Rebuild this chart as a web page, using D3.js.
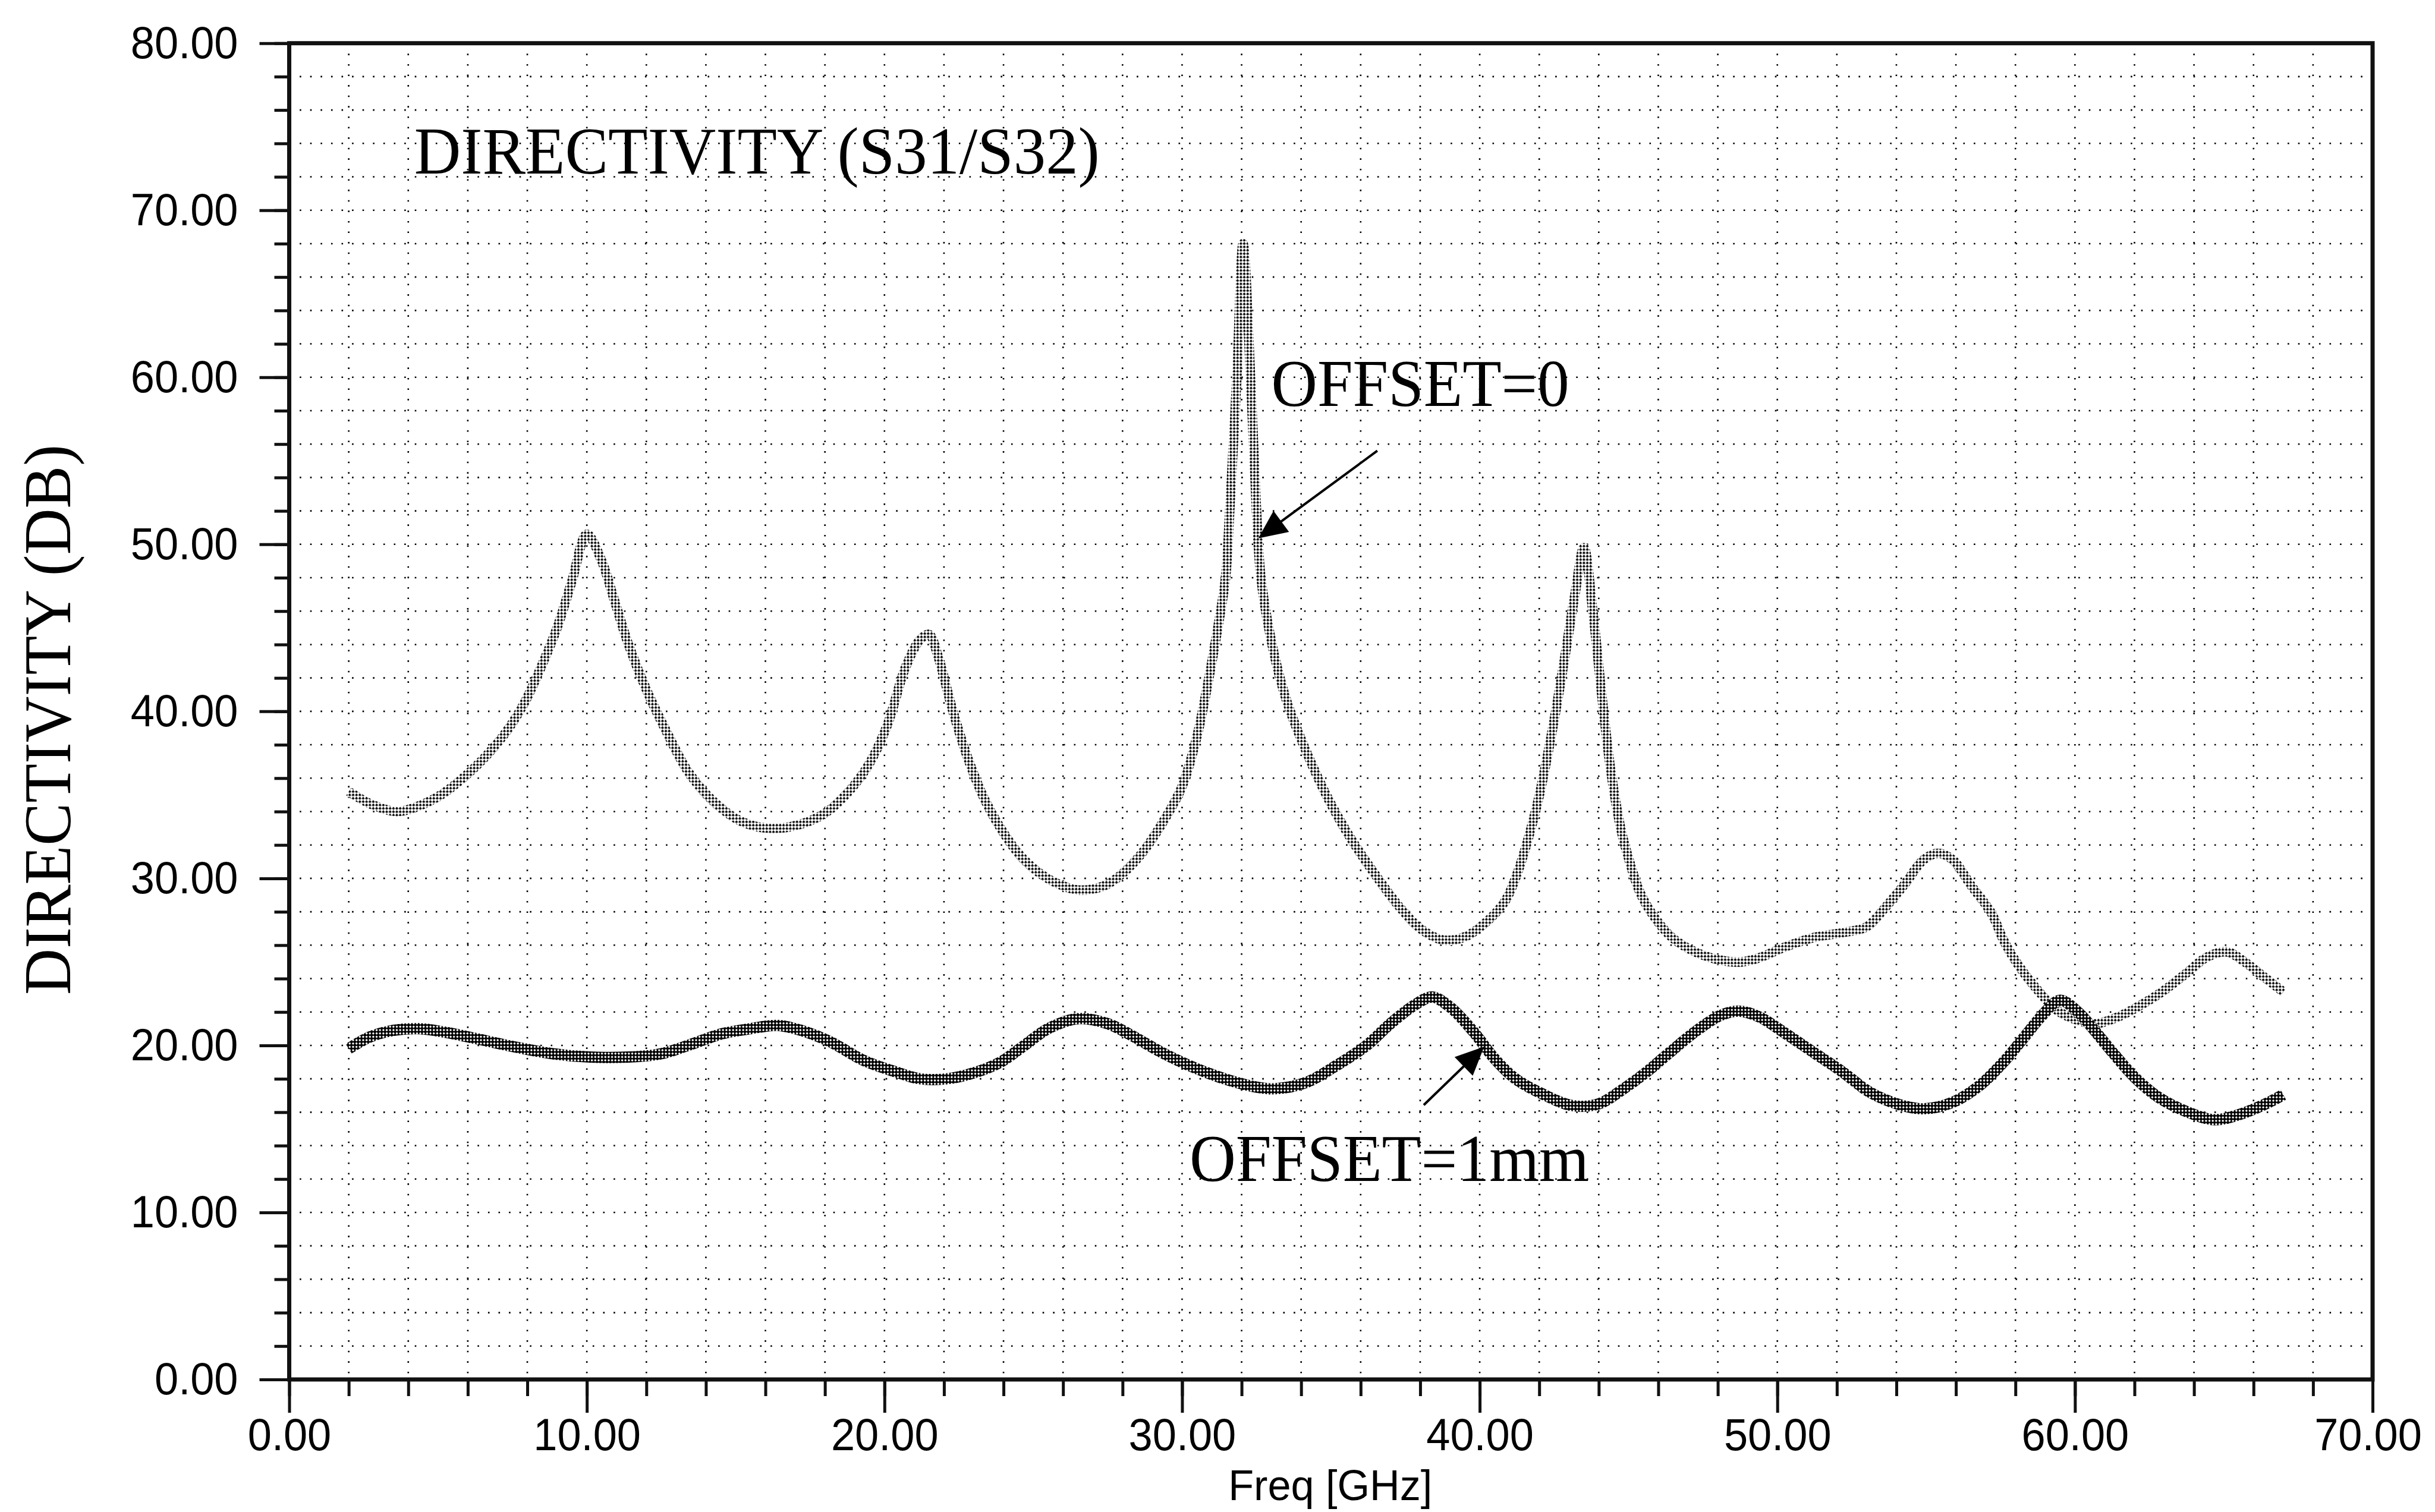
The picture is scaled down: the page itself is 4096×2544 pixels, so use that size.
<!DOCTYPE html>
<html><head><meta charset="utf-8">
<script src="https://cdn.jsdelivr.net/npm/d3@7/dist/d3.min.js"></script>
<style>html,body{margin:0;padding:0;background:#fff;}svg{display:block;}</style>
</head><body>
<svg id="chart" width="4096" height="2544"></svg>
<script>
// ---------------- data ----------------
const xMajorTicks = [0, 10, 20, 30, 40, 50, 60, 70];
const xTickLabels = ["0.00", "10.00", "20.00", "30.00", "40.00", "50.00", "60.00", "70.00"];
const yMajorTicks = [0, 10, 20, 30, 40, 50, 60, 70, 80];
const yTickLabels = ["0.00", "10.00", "20.00", "30.00", "40.00", "50.00", "60.00", "70.00", "80.00"];

// OFFSET=0 (upper curve)
const offset0Freq = [2.0, 2.8, 3.6, 4.3, 5.1, 5.9, 6.6, 7.3, 7.9, 8.5, 9.0, 9.5, 10.0, 10.5, 10.9, 11.4, 12.0, 12.7, 13.4, 14.2,
  15.2, 16.1, 17.1, 18.0, 18.8, 19.5, 20.1, 20.7, 21.2, 21.5, 21.8, 22.3, 22.8, 23.4, 24.2, 24.7, 25.3, 25.8, 26.5, 27.3,
  27.8, 28.6, 29.4, 30.0, 30.5, 30.9, 31.2, 31.46, 31.6, 31.84, 32.05, 32.3, 32.5, 32.65, 33.0, 33.5, 34.1, 34.9, 35.7, 36.5,
  37.3, 38.0, 38.8, 39.5, 40.1, 40.8, 41.2, 41.9, 42.4, 42.8, 43.2, 43.5, 43.8, 44.1, 44.4, 44.75, 45.07, 45.4, 45.9, 46.5,
  47.3, 48.1, 48.8, 49.4, 50.2, 51.2, 52.2, 53.0, 53.6, 54.3, 54.9, 55.4, 55.9, 56.5, 57.2, 57.6, 58.1, 58.8, 59.4, 60.1,
  60.7, 61.5, 62.2, 63.0, 63.8, 64.4, 65.1, 65.7, 66.35, 67.0];
const offset0Db = [35.2, 34.4, 34.0, 34.3, 35.0, 36.1, 37.3, 38.8, 40.5, 42.8, 45.0, 47.8, 50.6, 49.0, 46.8, 44.0, 41.3, 38.7, 36.4, 34.7,
  33.4, 33.0, 33.2, 33.9, 35.2, 36.9, 39.2, 42.6, 44.3, 44.6, 43.3, 40.0, 37.2, 34.6, 32.2, 31.1, 30.2, 29.7, 29.3, 29.5,
  30.0, 31.4, 33.5, 35.5, 38.5, 42.0, 45.0, 48.0, 52.0, 60.0, 68.0, 60.0, 52.0, 48.0, 44.2, 40.7, 37.9, 34.8, 32.3, 30.2,
  28.3, 27.0, 26.3, 26.5, 27.2, 28.5, 30.0, 34.2, 38.5, 42.6, 47.0, 49.8, 46.0, 41.0, 36.5, 32.9, 30.8, 29.1, 27.6, 26.4,
  25.55, 25.1, 25.0, 25.25, 25.85, 26.45, 26.75, 27.1, 28.2, 29.7, 31.1, 31.5, 31.1, 29.6, 27.9, 26.3, 24.8, 23.2, 22.1, 21.5,
  21.3, 21.75, 22.4, 23.3, 24.4, 25.25, 25.6, 25.0, 24.1, 23.2];

// OFFSET=1mm (lower curve)
const offset1Freq = [2.0, 2.7, 3.5, 4.35, 5.2, 6.3, 7.6, 8.85, 10.1, 11.4, 12.5, 13.4, 14.55, 15.5, 16.4, 17.2, 18.2, 19.3, 20.4, 21.2,
  22.1, 22.9, 23.9, 24.7, 25.5, 26.5, 27.5, 28.3, 29.4, 30.5, 31.6, 32.5, 33.1, 34.2, 35.1, 36.2, 37.0, 37.8, 38.4, 39.0,
  39.8, 40.5, 41.2, 42.1, 43.1, 44.0, 44.75, 45.6, 46.4, 47.3, 48.1, 48.7, 49.4, 50.2, 51.2, 52.2, 53.1, 54.1, 54.9, 55.9,
  56.8, 57.6, 58.3, 58.9, 59.5, 60.1, 60.7, 61.35, 62.0, 62.8, 63.8, 64.7, 65.5, 66.35, 67.0];
const offset1Db = [19.8, 20.5, 20.9, 21.0, 20.8, 20.4, 19.9, 19.5, 19.3, 19.3, 19.5, 20.0, 20.7, 21.0, 21.2, 20.9, 20.2, 19.1, 18.4, 18.0,
  18.0, 18.3, 19.0, 20.0, 21.0, 21.6, 21.3, 20.6, 19.5, 18.6, 17.9, 17.5, 17.4, 17.8, 18.7, 20.0, 21.3, 22.4, 22.9, 22.3,
  20.8, 19.2, 18.0, 17.1, 16.4, 16.5, 17.3, 18.4, 19.6, 20.9, 21.8, 22.05, 21.7, 20.8, 19.6, 18.4, 17.2, 16.45, 16.2, 16.6,
  17.6, 19.0, 20.5, 21.8, 22.7, 22.0, 20.8, 19.4, 18.1, 16.9, 16.0, 15.55, 15.85, 16.45, 17.05];

const titleText = "DIRECTIVITY (S31/S32)";
const yAxisTitle = "DIRECTIVITY (DB)";
const xAxisTitle = "Freq [GHz]";
const seriesLabels = ["OFFSET=0", "OFFSET=1mm"];
// annotation anchors in data units [GHz, dB]
const labelAnchors = [[33.0, 58.3], [30.25, 11.9]];
const arrowTails = [[36.56, 55.6], [38.12, 16.43]];
const arrowTips = [[32.56, 50.36], [40.15, 19.93]];
const titleAnchor = [4.2, 72.2];

// ---------------- layout ----------------
const W = 4096, H = 2544;
const L = 486.5, R = 3991, T = 72.7, B = 2321;
const x = d3.scaleLinear().domain([0, 70]).range([L, R]);
const y = d3.scaleLinear().domain([0, 80]).range([B, T]);

const svg = d3.select("#chart");
svg.append("rect").attr("width", W).attr("height", H).attr("fill", "#fff");

const defs = svg.append("defs");
const p0 = defs.append("pattern").attr("id", "chk0").attr("patternUnits", "userSpaceOnUse")
  .attr("width", 8).attr("height", 8).attr("patternTransform", "rotate(45)");
p0.append("rect").attr("width", 8).attr("height", 8).attr("fill", "#fff");
p0.append("rect").attr("width", 3.6).attr("height", 3.6).attr("fill", "#000");
p0.append("rect").attr("x", 4).attr("y", 4).attr("width", 3.6).attr("height", 3.6).attr("fill", "#000");
const p1 = defs.append("pattern").attr("id", "chk1").attr("patternUnits", "userSpaceOnUse")
  .attr("width", 8).attr("height", 8).attr("patternTransform", "rotate(45)");
p1.append("rect").attr("width", 8).attr("height", 8).attr("fill", "#000");
p1.append("rect").attr("width", 3).attr("height", 3).attr("fill", "#fff");
p1.append("rect").attr("x", 4).attr("y", 4).attr("width", 3).attr("height", 3).attr("fill", "#fff");

// ---------------- grid ----------------
const gx = d3.range(2, 70, 2);
const gy = d3.range(2, 80, 2);
const grid = svg.append("g").attr("stroke", "#000").attr("stroke-width", 2.6)
  .attr("stroke-dasharray", "2.6 15").attr("fill", "none");
grid.selectAll("line.v").data(gx).join("line").attr("class", "v")
  .attr("x1", d => x(d)).attr("x2", d => x(d)).attr("y1", y(80)).attr("y2", y(0));
grid.selectAll("line.h").data(gy).join("line").attr("class", "h")
  .attr("x1", x(0)).attr("x2", x(70)).attr("y1", d => y(d)).attr("y2", d => y(d));

// ---------------- axes ----------------
const tickFont = "'Liberation Sans', Arial, sans-serif";
function styleAxis(g) {
  g.select(".domain").remove();
  g.selectAll(".tick line").attr("stroke", "#111").attr("stroke-width", 5);
}
// minor ticks
svg.append("g").attr("transform", `translate(0,${B})`)
  .call(d3.axisBottom(x).tickValues(d3.range(0, 71, 2)).tickSize(28).tickFormat(""))
  .call(styleAxis);
svg.append("g").attr("transform", `translate(${L},0)`)
  .call(d3.axisLeft(y).tickValues(d3.range(0, 81, 2)).tickSize(25).tickFormat(""))
  .call(styleAxis);
// major ticks + labels
const xAx = svg.append("g").attr("transform", `translate(0,${B})`)
  .call(d3.axisBottom(x).tickValues(xMajorTicks).tickSize(56).tickPadding(9)
    .tickFormat((d, i) => xTickLabels[i]))
  .call(styleAxis);
const yAx = svg.append("g").attr("transform", `translate(${L},0)`)
  .call(d3.axisLeft(y).tickValues(yMajorTicks).tickSize(50).tickPadding(36)
    .tickFormat((d, i) => yTickLabels[i]))
  .call(styleAxis);
[xAx, yAx].forEach(g => g.selectAll("text")
  .attr("font-family", tickFont).attr("font-size", 76).attr("fill", "#000")
  .each(function () {
    const w = this.getComputedTextLength();
    d3.select(this).attr("textLength", w * 0.95).attr("lengthAdjust", "spacingAndGlyphs");
  }));
// keep the last x label inside the window
xAx.selectAll(".tick text").filter(d => d === 70).attr("x", -8);

// frame
svg.append("rect").attr("x", x(0)).attr("y", y(80)).attr("width", x(70) - x(0)).attr("height", y(0) - y(80))
  .attr("fill", "none").attr("stroke", "#111").attr("stroke-width", 7);

// ---------------- curves ----------------
const line = d3.line().x(d => x(d[0])).y(d => y(d[1])).curve(d3.curveCatmullRom.alpha(0.5));
const s0 = offset0Freq.map((f, i) => [f, offset0Db[i]]);
const s1 = offset1Freq.map((f, i) => [f, offset1Db[i]]);
svg.append("path").datum(s0).attr("d", line).attr("fill", "none")
  .attr("stroke", "url(#chk0)").attr("stroke-width", 16).attr("stroke-linejoin", "round");
svg.append("path").datum(s1).attr("d", line).attr("fill", "none")
  .attr("stroke", "url(#chk1)").attr("stroke-width", 19).attr("stroke-linejoin", "round");

// ---------------- text ----------------
const serif = "'Liberation Serif', 'Times New Roman', serif";
function fitText(sel, width) {
  sel.attr("textLength", width).attr("lengthAdjust", "spacingAndGlyphs");
}
svg.append("text").attr("x", x(titleAnchor[0])).attr("y", y(titleAnchor[1]))
  .attr("font-family", serif).attr("font-size", 112).attr("fill", "#000")
  .text(titleText).call(fitText, 1153);

svg.append("text").attr("transform", `translate(118,${(y(80) + y(0)) / 2 + 14}) rotate(-90)`)
  .attr("text-anchor", "middle").attr("font-family", serif).attr("font-size", 112).attr("fill", "#000")
  .text(yAxisTitle).call(fitText, 926);

svg.append("text").attr("x", x(35) - 1).attr("y", 2524).attr("text-anchor", "middle")
  .attr("font-family", tickFont).attr("font-size", 72).attr("fill", "#000")
  .text(xAxisTitle).call(fitText, 343);

const labelWidths = [501, 672];
seriesLabels.forEach((t, i) => {
  svg.append("text").attr("x", x(labelAnchors[i][0])).attr("y", y(labelAnchors[i][1]))
    .attr("font-family", serif).attr("font-size", 112).attr("fill", "#000")
    .text(t).call(fitText, labelWidths[i]);
});

// arrows
arrowTails.forEach((tail, i) => {
  const sx = x(tail[0]), sy = y(tail[1]);
  const tx = x(arrowTips[i][0]), ty = y(arrowTips[i][1]);
  const len = Math.hypot(tx - sx, ty - sy);
  const ux = (tx - sx) / len, uy = (ty - sy) / len;
  const hl = 48, hw = 22;
  const bx = tx - ux * hl, by = ty - uy * hl;
  svg.append("line").attr("x1", sx).attr("y1", sy).attr("x2", bx + ux * 4).attr("y2", by + uy * 4)
    .attr("stroke", "#000").attr("stroke-width", 4);
  svg.append("path").attr("d", `M${tx},${ty}L${bx - uy * hw},${by + ux * hw}L${bx + uy * hw},${by - ux * hw}Z`)
    .attr("fill", "#000");
});
</script>
</body></html>
